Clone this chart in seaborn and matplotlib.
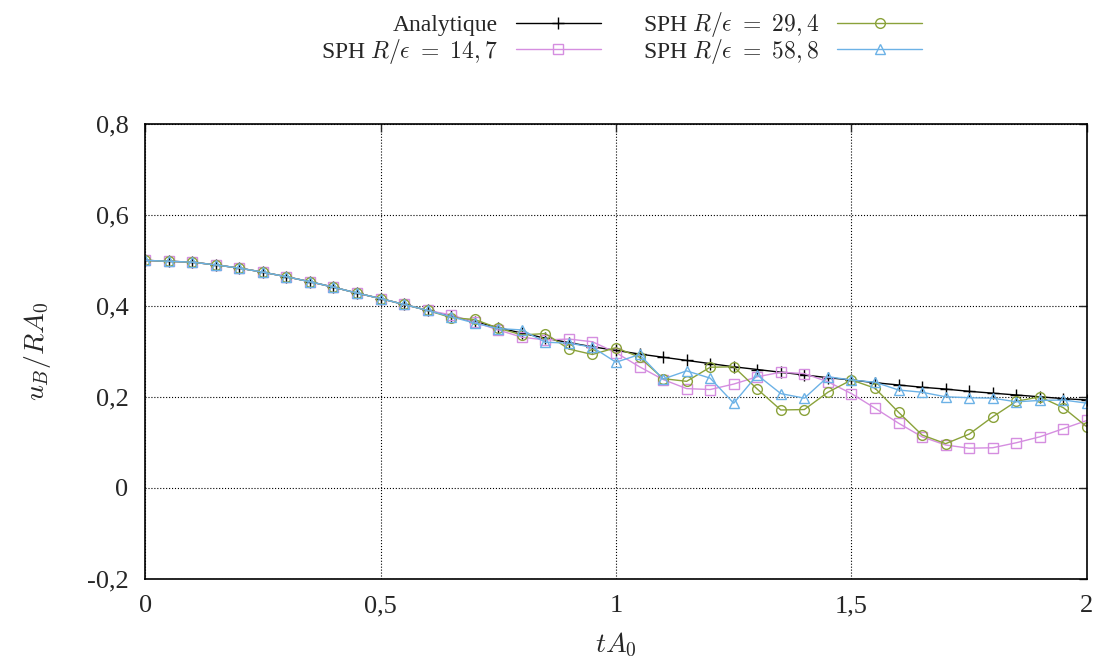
import numpy as np
import pandas as pd
import matplotlib
matplotlib.use('Agg')
import matplotlib.pyplot as plt
import seaborn as sns

# DONNEES
t = [0.00, 0.05, 0.10, 0.15, 0.20, 0.25, 0.30, 0.35, 0.40, 0.45,
     0.50, 0.55, 0.60, 0.65, 0.70, 0.75, 0.80, 0.85, 0.90, 0.95,
     1.00, 1.05, 1.10, 1.15, 1.20, 1.25, 1.30, 1.35, 1.40, 1.45,
     1.50, 1.55, 1.60, 1.65, 1.70, 1.75, 1.80, 1.85, 1.90, 1.95, 2.00]

analytique = [0.500, 0.498, 0.496, 0.490, 0.483, 0.474, 0.464, 0.453, 0.441, 0.428,
              0.416, 0.403, 0.390, 0.377, 0.365, 0.352, 0.340, 0.329, 0.319, 0.310,
              0.302, 0.294, 0.287, 0.280, 0.273, 0.266, 0.260, 0.254, 0.248, 0.242,
              0.237, 0.231, 0.226, 0.221, 0.217, 0.212, 0.208, 0.204, 0.200, 0.196, 0.193]

sph_147 = [0.500, 0.498, 0.496, 0.490, 0.483, 0.474, 0.464, 0.453, 0.441, 0.428,
           0.416, 0.403, 0.390, 0.380, 0.364, 0.347, 0.331, 0.325, 0.327, 0.321,
           0.297, 0.266, 0.238, 0.218, 0.216, 0.228, 0.244, 0.254, 0.251, 0.233,
           0.207, 0.175, 0.142, 0.112, 0.094, 0.087, 0.088, 0.099, 0.112, 0.130, 0.148]

sph_294 = [0.500, 0.498, 0.496, 0.490, 0.483, 0.474, 0.464, 0.453, 0.441, 0.428,
           0.416, 0.403, 0.390, 0.374, 0.370, 0.351, 0.336, 0.339, 0.305, 0.293,
           0.308, 0.287, 0.240, 0.234, 0.265, 0.266, 0.217, 0.171, 0.172, 0.210,
           0.237, 0.219, 0.166, 0.116, 0.097, 0.118, 0.156, 0.190, 0.200, 0.176, 0.134]

sph_588 = [0.500, 0.498, 0.496, 0.490, 0.483, 0.474, 0.464, 0.453, 0.441, 0.428,
           0.416, 0.403, 0.390, 0.376, 0.362, 0.350, 0.347, 0.320, 0.318, 0.309,
           0.276, 0.293, 0.239, 0.257, 0.241, 0.186, 0.248, 0.207, 0.197, 0.244,
           0.237, 0.232, 0.215, 0.210, 0.200, 0.198, 0.197, 0.189, 0.192, 0.193, 0.186]

labels = ['Analytique',
          r'SPH $R/\epsilon\ =\ 14,7$',
          r'SPH $R/\epsilon\ =\ 29,4$',
          r'SPH $R/\epsilon\ =\ 58,8$']

x_ticks = [0, 0.5, 1, 1.5, 2]
x_ticklabels = ['0', '0,5', '1', '1,5', '2']
y_ticks = [-0.2, 0, 0.2, 0.4, 0.6, 0.8]
y_ticklabels = ['-0,2', '0', '0,2', '0,4', '0,6', '0,8']

# STYLE
sns.set_style('white')
plt.rcParams['font.family'] = ['Liberation Serif', 'DejaVu Serif']
plt.rcParams['mathtext.fontset'] = 'cm'
plt.rcParams['font.size'] = 19

couleurs = ['black', '#d58ee0', '#8aa23a', '#6cb2e6']
marqueurs = ['+', 's', 'o', '^']
series = [analytique, sph_147, sph_294, sph_588]

fig = plt.figure(figsize=(10.99, 6.66), dpi=100)
ax = fig.add_axes([0.132, 0.131, 0.857, 0.683])

for y, lab, c, m in zip(series, labels, couleurs, marqueurs):
    df = pd.DataFrame({'t': t, 'u': y})
    sns.lineplot(data=df, x='t', y='u', ax=ax, color=c, marker=m,
                 mfc='none', mec=c, mew=1.0, ms=7 if m != '+' else 8,
                 lw=1.0, label=lab)

ax.set_xlim(0, 2)
ax.set_ylim(-0.2, 0.8)
ax.set_xticks(x_ticks)
ax.set_xticklabels(x_ticklabels)
ax.set_yticks(y_ticks)
ax.set_yticklabels(y_ticklabels)
ax.tick_params(direction='in', length=6, width=1, top=True, right=True,
               labelsize=19, pad=12)
ax.grid(True, linestyle=':', color='black', linewidth=0.8)
for s in ax.spines.values():
    s.set_color('black')
    s.set_linewidth(1.2)

ax.set_xlabel(r'$tA_0$', fontsize=20, labelpad=10)
ax.set_ylabel(r'$u_B/RA_0$', fontsize=20, labelpad=24)

# LEGENDE EN DEUX LIGNES (STYLE GNUPLOT)
h, l = ax.get_legend_handles_labels()
opts = dict(ncol=2, frameon=False, markerfirst=False, handlelength=3.6,
            handletextpad=0.75, columnspacing=1.8, borderpad=0,
            borderaxespad=0, fontsize=17, loc='center right')
leg1 = ax.legend([h[0], h[2]], [l[0], l[2]], bbox_to_anchor=(0.825, 1.218), **opts)
ax.add_artist(leg1)
ax.legend([h[1], h[3]], [l[1], l[3]], bbox_to_anchor=(0.825, 1.160), **opts)

plt.savefig('out.png', dpi=100)
